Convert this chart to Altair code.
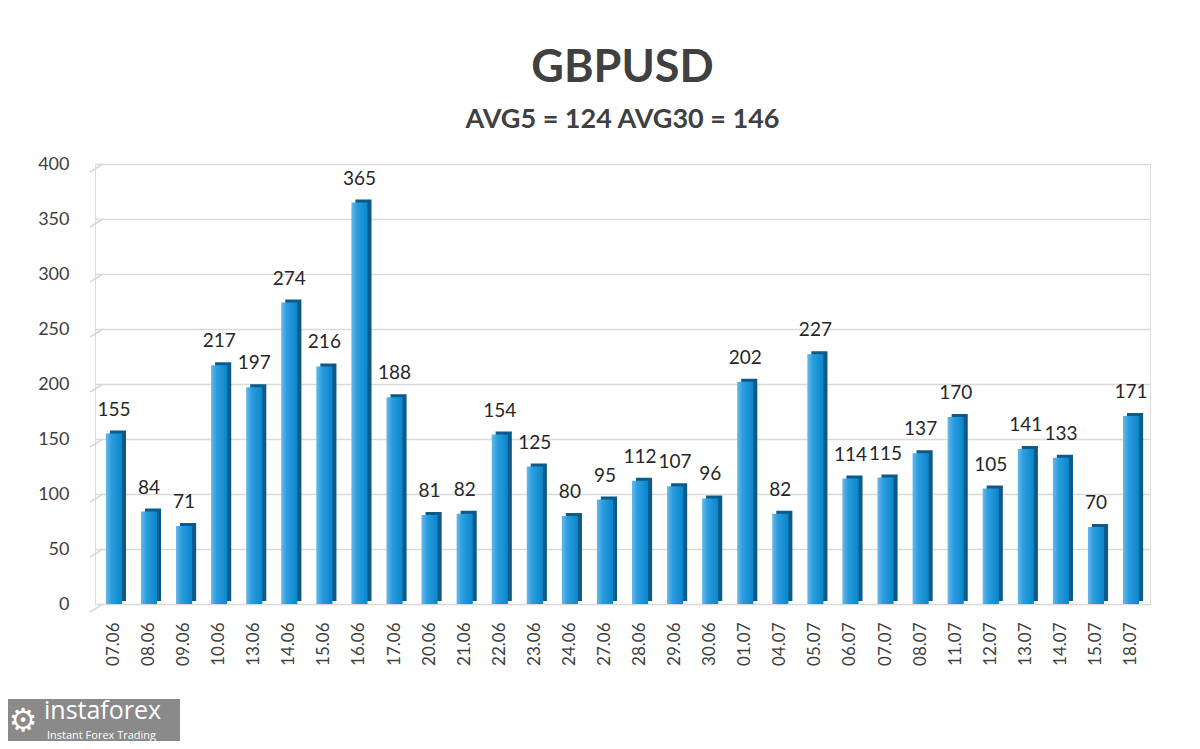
import altair as alt
import pandas as pd

dates = ["07.06", "08.06", "09.06", "10.06", "13.06", "14.06", "15.06", "16.06",
         "17.06", "20.06", "21.06", "22.06", "23.06", "24.06", "27.06", "28.06",
         "29.06", "30.06", "01.07", "04.07", "05.07", "06.07", "07.07", "08.07",
         "11.07", "12.07", "13.07", "14.07", "15.07", "18.07"]
values = [155, 84, 71, 217, 197, 274, 216, 365, 188, 81, 82, 154, 125, 80, 95,
          112, 107, 96, 202, 82, 227, 114, 115, 137, 170, 105, 141, 133, 70, 171]
y_ticks = [0, 50, 100, 150, 200, 250, 300, 350, 400]

df = pd.DataFrame({"date": dates, "value": values})
grid_df = pd.DataFrame({"v": y_ticks})

FONT = "Lato"
TXT = "#404040"

xenc = alt.X("date:N", sort=dates, title=None,
             scale=alt.Scale(paddingInner=0.54, paddingOuter=0.31),
             axis=alt.Axis(labelAngle=-90, labelAlign="right", labelBaseline="middle",
                           labelPadding=18, ticks=False, domain=False,
                           labelFontSize=17, labelColor=TXT, labelFont=FONT))
yenc = alt.Y("value:Q", title=None,
             scale=alt.Scale(domain=[0, 400], nice=False),
             axis=alt.Axis(values=y_ticks, ticks=False, domain=False, labelPadding=26,
                           labelFontSize=18, labelColor=TXT, labelFont=FONT,
                           grid=True, gridColor="#d9d9d9", gridWidth=1.5))

base = alt.Chart(df)

side = base.mark_bar(color="#0b5a8a", xOffset=4, yOffset=-3, y2Offset=-3).encode(
    x=xenc, y=yenc)

front = base.mark_bar(
    color=alt.Gradient(
        gradient="linear",
        stops=[alt.GradientStop(color="#6ab8e8", offset=0),
               alt.GradientStop(color="#2a9ddf", offset=0.35),
               alt.GradientStop(color="#0a86cb", offset=1)],
        x1=0, x2=1, y1=0, y2=0)
).encode(x=xenc, y=yenc)

labels = base.mark_text(baseline="bottom", dy=-14, fontSize=19, font=FONT,
                        color="#262626").encode(
    x=alt.X("date:N", sort=dates), y="value:Q", text="value:Q")

stubs = alt.Chart(grid_df).mark_rule(color="#d9d9d9", strokeWidth=1.5,
                                     yOffset=8, y2Offset=0).encode(
    x=alt.value(-5), x2=alt.value(8), y="v:Q", y2="v2:Q"
).transform_calculate(v2="datum.v")

logo_df = pd.DataFrame({"a": [1]})
logo_box = alt.Chart(logo_df).mark_rect(color="#8a8a8a").encode(
    x=alt.value(-95), x2=alt.value(85), y=alt.value(535), y2=alt.value(580))
logo_txt = alt.Chart(logo_df).mark_text(text="instaforex", color="white", fontSize=25,
                                        font="Open Sans", align="left",
                                        baseline="alphabetic").encode(
    x=alt.value(-51), y=alt.value(555))
logo_sub = alt.Chart(logo_df).mark_text(text="Instant Forex Trading", color="white",
                                        fontSize=11, font="Open Sans", align="left",
                                        baseline="alphabetic").encode(
    x=alt.value(-48), y=alt.value(575))
logo_icon = alt.Chart(logo_df).mark_text(text="⚙", color="white", fontSize=32,
                                         font="DejaVu Sans", align="center",
                                         baseline="middle").encode(
    x=alt.value(-72), y=alt.value(557))

chart = alt.layer(stubs, side, front, labels, logo_box, logo_icon, logo_txt, logo_sub).properties(
    width=1055, height=440,
    title=alt.TitleParams(
        text="GBPUSD", subtitle="AVG5 = 124 AVG30 = 146",
        font=FONT, fontSize=45, fontWeight="bold", color=TXT,
        subtitleFont=FONT, subtitleFontSize=27, subtitleFontWeight="bold",
        subtitleColor=TXT, subtitlePadding=16, anchor="middle", offset=22),
    autosize=alt.AutoSizeParams(type="none"),
    padding={"left": 87, "top": 156, "right": 42, "bottom": 137},
).configure_view(stroke=None).configure(background="white")

chart.save("out.html", embed_options={"renderer": "svg", "actions": False})
